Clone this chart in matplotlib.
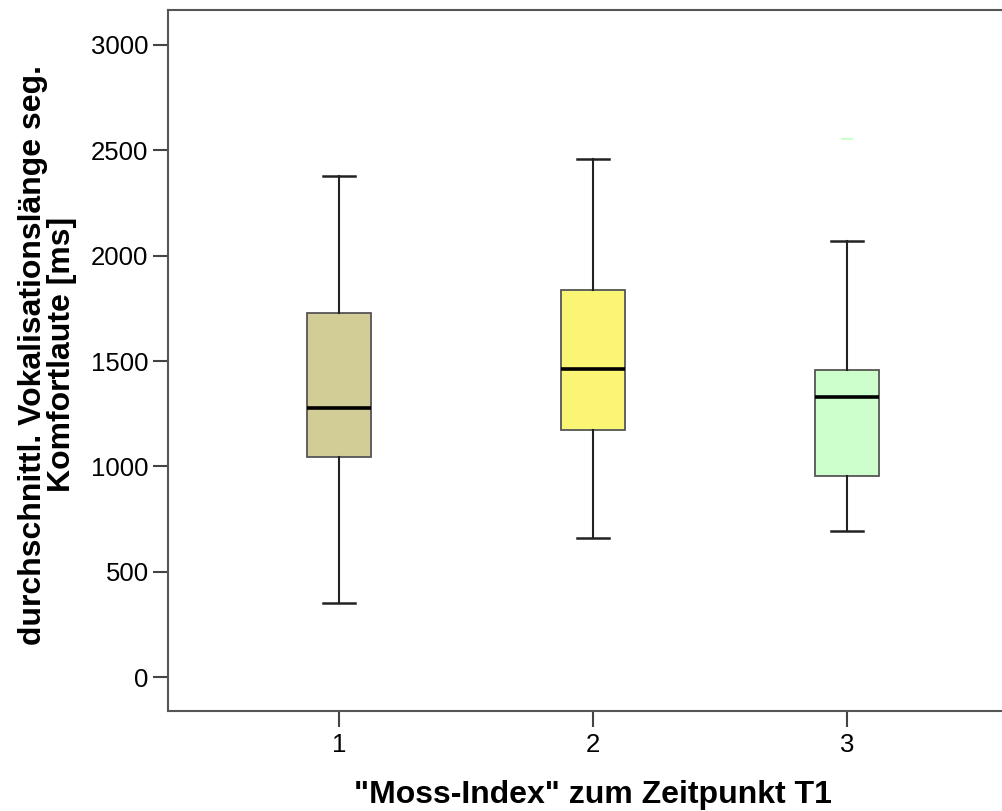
import matplotlib
matplotlib.use('Agg')
import matplotlib.pyplot as plt

plt.rcParams['font.family'] = ['Liberation Sans', 'DejaVu Sans']

# Kennwerte je Gruppe
groups = ['1', '2', '3']
whislo = [351, 660, 693]
q1 = [1044, 1172, 954]
med = [1277, 1462, 1329]
q3 = [1728, 1837, 1457]
whishi = [2378, 2458, 2069]
fliers = [[], [], [2554]]
colors = ['#d2cd96', '#faf575', '#ccffcc']

stats = []
for i in range(len(groups)):
    stats.append({'label': groups[i], 'whislo': whislo[i], 'q1': q1[i], 'med': med[i],
                  'q3': q3[i], 'whishi': whishi[i], 'fliers': fliers[i]})

W, H = 1003, 811
fig = plt.figure(figsize=(W / 100, H / 100), dpi=100)
ax = fig.add_axes([168 / W, (H - 711) / H, 850 / W, 701 / H])

bp = ax.bxp(stats, positions=[1, 2, 3], widths=0.25, patch_artist=True,
            boxprops=dict(edgecolor='#555555', linewidth=1.3),
            medianprops=dict(color='black', linewidth=2.6),
            whiskerprops=dict(color='#222222', linewidth=1.5),
            capprops=dict(color='#222222', linewidth=1.8),
            capwidths=0.125,
            flierprops=dict(marker='_', markersize=8, markeredgecolor='#ccffcc', markeredgewidth=1.5))
for patch, c in zip(bp['boxes'], colors):
    patch.set_facecolor(c)

ax.set_xlim(0.327, 3.673)
ax.set_ylim(-161, 3166)
ax.set_yticks([0, 500, 1000, 1500, 2000, 2500, 3000])
ax.set_xticks([1, 2, 3])
ax.set_xticklabels(groups)

for s in ax.spines.values():
    s.set_color('#555555')
    s.set_linewidth(1.5)
ax.spines['right'].set_visible(False)

ax.tick_params(axis='both', length=11, width=1.5, color='#444444', labelsize=18.5, pad=3)
ax.tick_params(axis='x', length=11.5, pad=4.5)

ax.set_xlabel('"Moss-Index" zum Zeitpunkt T1', fontsize=23, fontweight='bold', va='baseline')
ax.xaxis.set_label_coords(0.5, (711 - 803) / 701)
ax.set_ylabel('durchschnittl. Vokalisationslänge seg.\nKomfortlaute [ms]', fontsize=23,
              fontweight='bold', linespacing=0.95)
ax.yaxis.set_label_coords(-0.107, 0.508)

fig.savefig('out.png', dpi=100)
